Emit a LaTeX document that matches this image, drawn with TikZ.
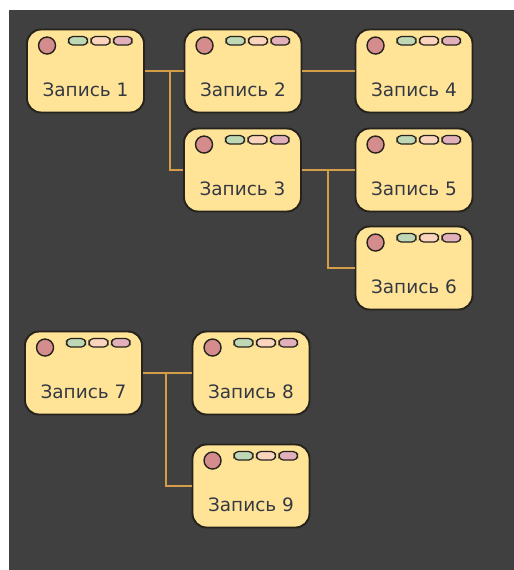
\documentclass[tikz,border=0pt]{standalone}
\usepackage{fontspec}
\setmainfont{DejaVu Sans}
\usepackage{tikz}
\usetikzlibrary{shapes.geometric, arrows}
\definecolor{bgGray}{RGB}{64,64,64}
\definecolor{recFill}{RGB}{255,228,152}
\definecolor{recLine}{RGB}{38,34,28}
\definecolor{recText}{RGB}{52,56,66}
\definecolor{linkGold}{RGB}{212,158,72}
\definecolor{dotRed}{RGB}{212,140,140}
\definecolor{pillGreen}{RGB}{190,215,180}
\definecolor{pillPeach}{RGB}{250,212,188}
\definecolor{pillPink}{RGB}{226,176,186}
\tikzstyle{record} = [rectangle, rounded corners=0.28cm, minimum width=2.34cm, minimum height=1.66cm, text height=1.0cm, text depth=0pt, inner sep=0pt, fill=recFill, draw=recLine, line width=1.1pt, text=recText, font=\fontsize{10.5}{12}\selectfont]
\tikzstyle{link} = [line width=1.1pt, draw=linkGold]
\tikzstyle{dot} = [draw=recLine, line width=0.8pt, fill=dotRed]
\tikzstyle{pill} = [draw=recLine, line width=0.7pt, rounded corners=0.085cm]

\begin{document}
\begin{tikzpicture}
                            \fill [white] (0,0) rectangle (10.28,-11.40);
                            \fill [bgGray] (0.18,-0.20) rectangle (10.28,-11.40);
                            % records
                            \node (1) [record] at (1.71,-1.42) {Запись 1};
                            \node (2) [record] at (4.86,-1.42) {Запись 2};
                            \node (4) [record] at (8.28,-1.42) {Запись 4};
                            \node (3) [record] at (4.85,-3.40) {Запись 3};
                            \node (5) [record] at (8.28,-3.40) {Запись 5};
                            \node (6) [record] at (8.28,-5.36) {Запись 6};
                            \node (7) [record] at (1.67,-7.46) {Запись 7};
                            \node (8) [record] at (5.02,-7.46) {Запись 8};
                            \node (9) [record] at (5.02,-9.72) {Запись 9};
                            % branch points
                            \coordinate (b1) at (3.40,-1.42);
                            \coordinate (b3) at (6.56,-3.40);
                            \coordinate (b7) at (3.32,-7.46);
                            \draw [link] (1) -- (2);
                            \draw [link] (b1) |- (3.west);
                            \draw [link] (2) -- (4);
                            \draw [link] (3) -- (5);
                            \draw [link] (b3) |- (6.west);
                            \draw [link] (7) -- (8);
                            \draw [link] (b7) |- (9.west);
                            % status marks
                            \foreach \n in {1,...,9} {
                                \draw [dot] ([shift={(0.42,-0.34)}]\n.north west) circle (0.17cm);
                                \draw [pill, fill=pillGreen] ([shift={(0.85,-0.16)}]\n.north west) rectangle ++(0.38,-0.17);
                                \draw [pill, fill=pillPeach] ([shift={(1.30,-0.16)}]\n.north west) rectangle ++(0.38,-0.17);
                                \draw [pill, fill=pillPink] ([shift={(1.75,-0.16)}]\n.north west) rectangle ++(0.37,-0.17);
                            }
                        \end{tikzpicture}
\end{document}
